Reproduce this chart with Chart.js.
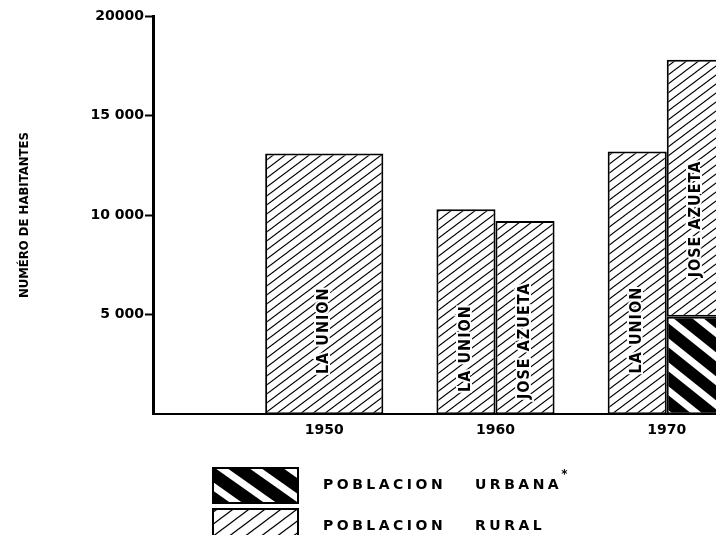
<!DOCTYPE html>
<html lang="es">
<head>
  <meta charset="UTF-8" />
  <title>Numero de habitantes - La Union y Jose Azueta</title>
  <script src="https://cdn.jsdelivr.net/npm/chart.js"></script>
  <style>
    html, body { margin: 0; padding: 0; background: #fff; overflow: hidden; }
    .wrap { position: relative; width: 846px; height: 535px; }
  </style>
</head>
<body>
  <div class="wrap"><canvas id="chart"></canvas></div>

  <script>
    // values
    const years = ['', '1950', '1960', '1970', ''];
    const laUnion = [null, 13100, 10300, 13200, null];
    const azuetaUrbana = [null, null, null, 4900, null];
    const azuetaRural = [null, null, 9700, 12900, null];
    const yTicks = [5000, 10000, 15000, 20000];
    const yTickText = ['5 000', '10 000', '15 000', '20000'];
    const names = ['LA UNION', 'JOSE AZUETA'];
    const legendText = [['POBLACION', 'URBANA'], ['POBLACION', 'RURAL']];

    // diagonal hatch tiles: dir 1 = "/", dir -1 = "\"
    const hatch = (w, h, lw, bg, fg, dir) => {
      const c = document.createElement('canvas');
      c.width = w; c.height = h;
      const g = c.getContext('2d');
      g.fillStyle = bg;
      g.fillRect(0, 0, w, h);
      g.strokeStyle = fg;
      g.lineWidth = lw;
      for (const dy of [-h, 0, h]) {
        g.beginPath();
        if (dir > 0) { g.moveTo(-w, 2 * h + dy); g.lineTo(2 * w, dy - h); }
        else { g.moveTo(-w, dy - h); g.lineTo(2 * w, 2 * h + dy); }
        g.stroke();
      }
      return g.createPattern(c, 'repeat');
    };
    const rural = hatch(12, 9, 1.1, '#fff', '#000', 1);
    const urbana = hatch(30, 24, 7, '#000', '#fff', -1);
    // the key boxes are drawn with a coarser hatch
    const ruralKey = hatch(16, 12, 1.3, '#fff', '#000', 1);
    const urbanaKey = hatch(34, 24, 7, '#000', '#fff', -1);

    const barNames = {
      id: 'barNames',
      afterDatasetsDraw(chart) {
        const ctx = chart.ctx;
        chart.data.datasets.forEach((ds, di) => {
          if (ds.nameIdx === undefined) return;
          chart.getDatasetMeta(di).data.forEach((bar, i) => {
            if (ds.data[i] == null) return;
            const cy = bar.base - (bar.base - bar.y) * ds.nameAt;
            ctx.save();
            ctx.translate(bar.x, cy);
            ctx.rotate(-Math.PI / 2);
            ctx.font = 'bold 16px "Liberation Sans Narrow", "DejaVu Sans Condensed", sans-serif';
            ctx.letterSpacing = '1px';
            ctx.textAlign = 'center';
            ctx.textBaseline = 'middle';
            ctx.lineWidth = 4;
            ctx.strokeStyle = '#fff';
            ctx.strokeText(names[ds.nameIdx], 0, 0);
            ctx.fillStyle = '#000';
            ctx.fillText(names[ds.nameIdx], 0, 0);
            ctx.restore();
          });
        });
      }
    };

    const boxLegend = {
      id: 'boxLegend',
      afterDraw(chart) {
        const ctx = chart.ctx;
        ctx.save();
        [urbanaKey, ruralKey].forEach((pat, i) => {
          const y = 468 + i * 41;
          ctx.fillStyle = pat;
          ctx.fillRect(213, y, 85, 35);
          ctx.strokeStyle = '#000';
          ctx.lineWidth = 2;
          ctx.strokeRect(213, y, 85, 35);
          ctx.fillStyle = '#000';
          ctx.font = 'bold 14px "DejaVu Sans"';
          ctx.letterSpacing = '3.5px';
          ctx.textBaseline = 'middle';
          ctx.textAlign = 'left';
          ctx.fillText(legendText[i][0], 323, y + 17);
          const w = ctx.measureText(legendText[i][1]).width;
          ctx.fillText(legendText[i][1], 475, y + 17);
          if (i === 0) {
            ctx.font = 'bold 12px "DejaVu Sans"';
            ctx.letterSpacing = '0px';
            ctx.fillText('*', 475 + w - 1, y + 7);
          }
        });
        ctx.restore();
      }
    };

    const tickFont = { family: 'DejaVu Sans', weight: 'bold', size: 14 };

    new Chart(document.getElementById('chart'), {
      type: 'bar',
      data: {
        labels: years,
        datasets: [
          { label: 'La Union', data: laUnion, stack: 'lu', backgroundColor: rural, nameIdx: 0, nameAt: 0.32 },
          { label: 'Jose Azueta urbana', data: azuetaUrbana, stack: 'ja', backgroundColor: urbana },
          { label: 'Jose Azueta rural', data: azuetaRural, stack: 'ja', backgroundColor: rural, nameIdx: 1, nameAt: 0.38 }
        ]
      },
      options: {
        animation: false,
        responsive: true,
        maintainAspectRatio: false,
        datasets: {
          bar: {
            borderColor: '#000',
            borderWidth: 2,
            borderSkipped: false,
            skipNull: true,
            categoryPercentage: 0.69,
            barPercentage: 1
          }
        },
        layout: { padding: { top: 16, right: 7, bottom: 88, left: 0 } },
        plugins: {
          legend: { display: false },
          tooltip: { enabled: false }
        },
        scales: {
          x: {
            stacked: true,
            offset: false,
            grid: { display: false, drawTicks: false },
            border: { color: '#000', width: 2 },
            ticks: { color: '#000', font: tickFont, padding: 8, maxRotation: 0, autoSkip: false }
          },
          y: {
            stacked: true,
            min: 0,
            max: 20000,
            afterBuildTicks: s => { s.ticks = yTicks.map(v => ({ value: v })); },
            afterFit: s => { s.width = 153; },
            grid: { drawOnChartArea: false, drawTicks: true, tickLength: 8, tickColor: '#000', tickWidth: 2 },
            border: { color: '#000', width: 3 },
            ticks: {
              color: '#000',
              font: tickFont,
              padding: 1,
              callback: v => yTickText[yTicks.indexOf(v)]
            },
            title: {
              display: true,
              text: 'NUMÉRO DE HABITANTES',
              color: '#000',
              font: { family: 'DejaVu Sans Condensed', weight: 'bold', size: 13 },
              padding: { top: 17, bottom: 0 }
            }
          }
        }
      },
      plugins: [barNames, boxLegend]
    });
  </script>
</body>
</html>
